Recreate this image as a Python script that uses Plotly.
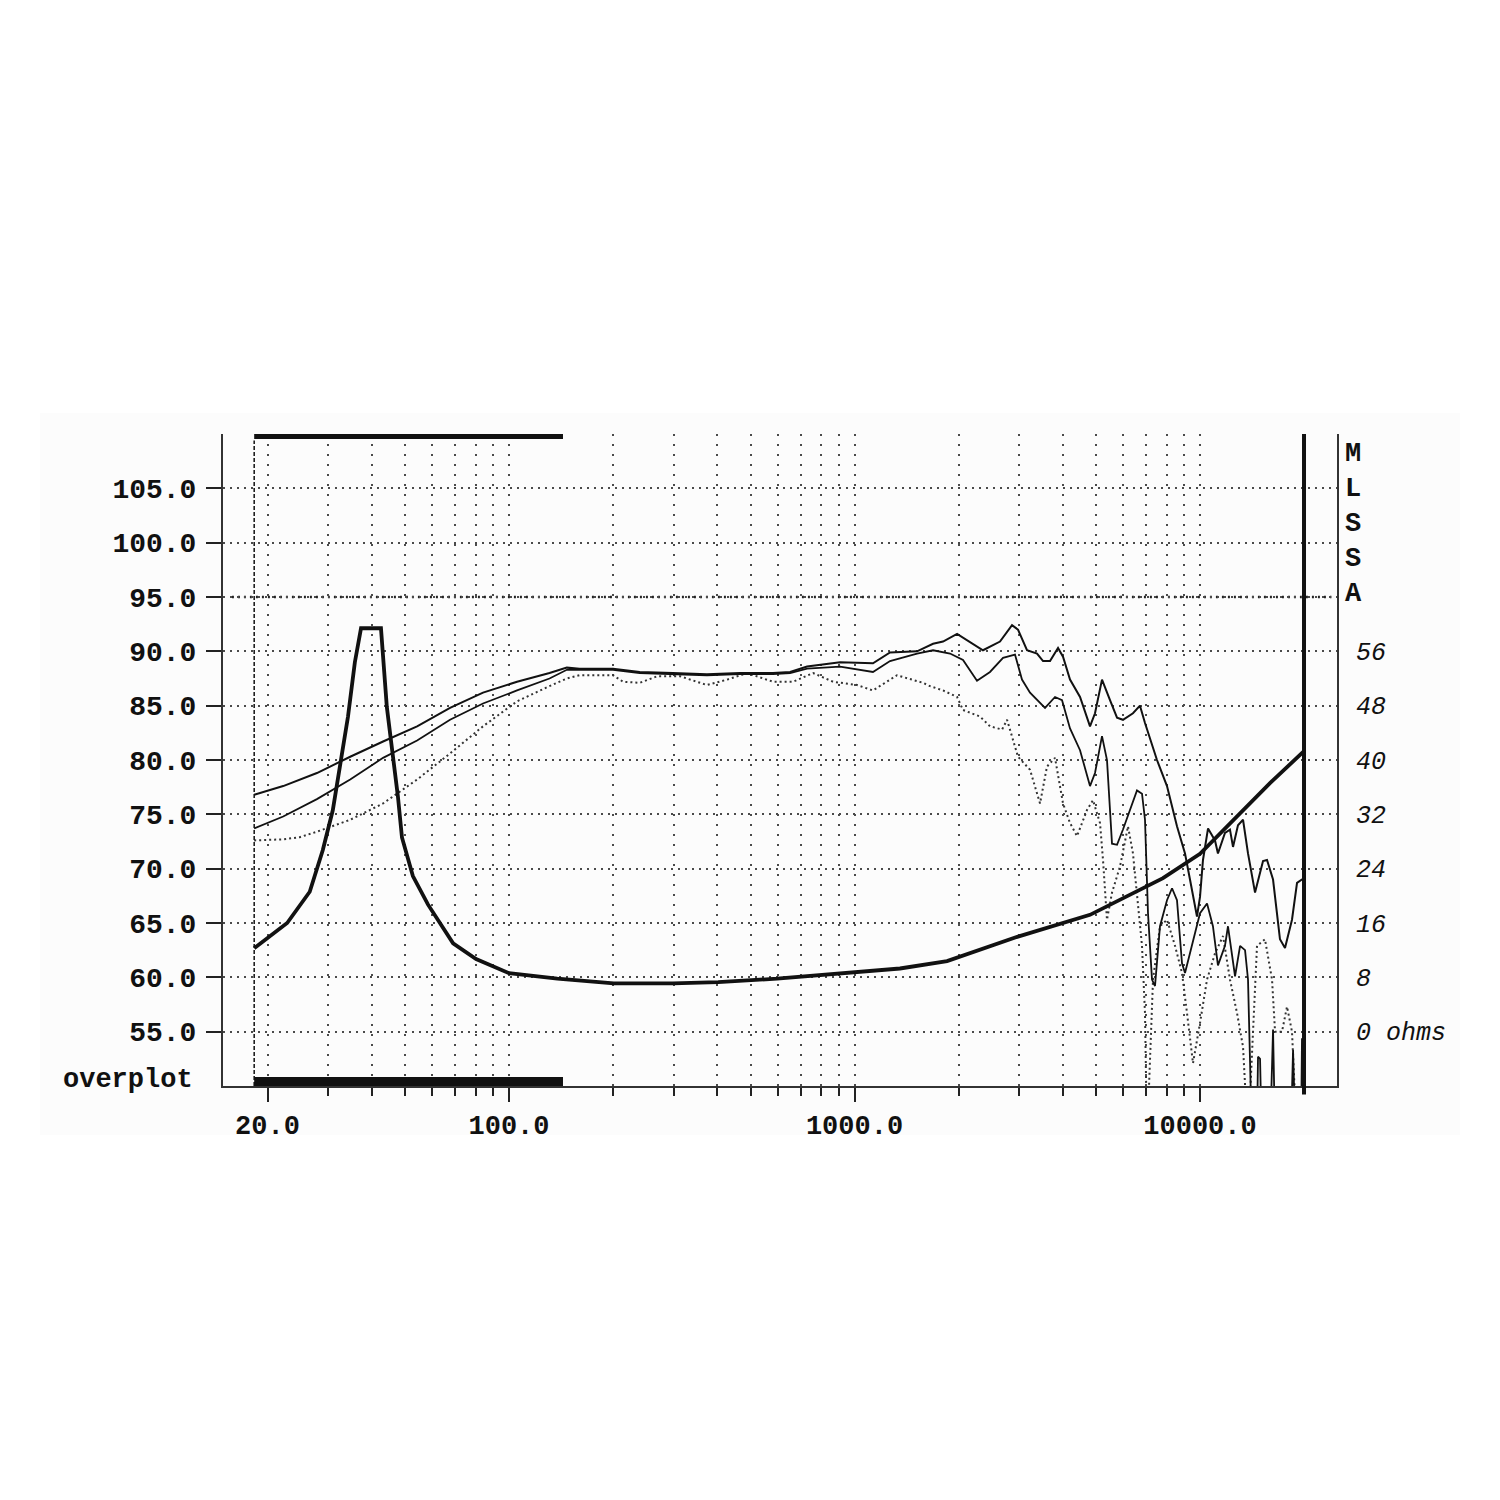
import plotly.graph_objects as go

# ---------------- data ----------------
# SPL curve A (upper solid), Hz / dB
freq_A = [18.3, 22.2, 27.8, 34.7, 43.2, 54.2, 67.5, 84.1, 105.5, 131, 147, 160, 200, 239, 298, 374, 466, 581, 651, 729,
          908, 1131, 1267, 1517, 1688, 1804, 1981, 2117, 2354, 2637, 2857, 2973, 3157, 3375, 3513, 3680, 3882, 4013,
          4205, 4495, 4804, 4967, 5204, 5489, 5752, 5985, 6397, 6703, 6931, 7507, 8025, 8578, 9049, 9354, 9800,
          10000, 10200, 10550, 11050, 11270, 11810, 12210, 12460, 12880, 13320, 13770, 14430, 15220, 15630, 16270,
          17040, 17620, 18460, 19090, 19730, 20000]
spl_A = [76.8, 77.6, 78.8, 80.3, 81.7, 83.1, 84.8, 86.2, 87.2, 88.0, 88.5, 88.4, 88.4, 88.1, 88.0, 87.9, 88.0, 88.0,
         88.1, 88.6, 89.0, 88.9, 89.9, 90.0, 90.7, 90.9, 91.6, 91.0, 90.1, 90.9, 92.4, 92.0, 90.1, 89.8, 89.1, 89.1,
         90.3, 89.5, 87.4, 85.8, 83.1, 84.3, 87.4, 85.5, 83.9, 83.7, 84.3, 85.0, 83.4, 80.0, 77.6, 73.9, 71.4, 69.0,
         65.6, 67.4, 70.8, 73.7, 72.6, 71.4, 73.3, 73.6, 72.0, 74.0, 74.5, 71.4, 67.8, 70.7, 70.8, 69.0, 63.5, 62.7,
         65.3, 68.7, 69.0, 69.0]

# SPL curve B (lower solid)
freq_B = [18.3, 22.2, 27.8, 34.7, 43.2, 54.2, 67.5, 84.1, 105.5, 131, 147, 160, 200, 239, 298, 374, 466, 581, 651, 729,
          908, 1131, 1267, 1517, 1688, 1890, 2061, 2262, 2467, 2691, 2914, 3053, 3221, 3560, 3805, 3987, 4205, 4495,
          4804, 4967, 5204, 5380, 5563, 5752, 5985, 6397, 6571, 6794, 6931, 7071, 7262, 7409, 7659, 8025, 8299,
          8578, 8869, 9049, 9354, 9800, 10000, 10480, 10900, 11270, 11810, 12050, 12380, 12630, 13060, 13500,
          13770, 14140, 14600, 14720, 14920, 15100, 15940, 16270, 16500, 18300, 18590, 18900, 19600, 19730, 20000]
spl_B = [73.7, 74.8, 76.4, 78.2, 80.2, 81.8, 83.7, 85.2, 86.4, 87.5, 88.3, 88.3, 88.3, 88.0, 87.9, 87.8, 87.9, 87.9,
         88.0, 88.4, 88.6, 88.1, 89.1, 89.8, 90.1, 89.8, 89.2, 87.3, 88.1, 89.4, 89.7, 87.4, 86.2, 84.8, 85.8, 85.5,
         82.9, 80.9, 77.6, 78.8, 82.2, 80.0, 72.3, 72.2, 73.6, 76.3, 77.2, 76.9, 74.5, 65.9, 59.8, 59.2, 64.7, 67.1,
         68.2, 67.1, 61.3, 60.4, 62.2, 64.7, 65.9, 66.8, 64.7, 61.1, 62.9, 64.7, 61.9, 60.1, 62.9, 62.5, 59.8, 45,
         45, 52.7, 52.5, 45, 45, 55.2, 45, 45, 53.3, 45, 45, 54.3, 54.3]

# SPL curve C (dotted)
freq_C = [18.3, 22.2, 24.8, 27.8, 34.7, 43.2, 54.2, 67.5, 84.1, 105.5, 131, 147, 160, 200, 214, 239, 268, 313, 374,
          428, 489, 581, 664, 759, 867, 1017, 1131, 1327, 1579, 1654, 1804, 1981, 2061, 2308, 2467, 2673, 2764, 2973,
          3221, 3443, 3607, 3805, 4013, 4205, 4406, 4709, 4901, 5135, 5239, 5380, 5563, 5868, 6188, 6397, 6794,
          6931, 7024, 7311, 7659, 8025, 8466, 8869, 9171, 9543, 10000, 10480, 11050, 11660, 12210, 12800, 13320,
          13770, 14620, 15420, 16160, 16490, 17270, 17860, 18460, 19090, 19470]
spl_C = [72.6, 72.7, 72.9, 73.4, 74.5, 76.0, 78.2, 80.6, 83.1, 85.4, 86.8, 87.5, 87.8, 87.8, 87.2, 87.1, 87.7, 87.7,
         86.9, 87.4, 88.0, 87.2, 87.2, 88.0, 87.2, 86.9, 86.4, 87.8, 87.1, 86.8, 86.4, 85.8, 84.6, 84.0, 83.1, 82.8,
         83.7, 80.3, 79.1, 76.0, 79.4, 80.2, 76.0, 74.2, 73.0, 75.4, 76.3, 74.2, 70.8, 65.3, 67.8, 70.2, 73.9, 71.4,
         62.9, 56.7, 45, 59.8, 64.7, 65.3, 62.9, 60.4, 56.7, 52.1, 55.8, 59.8, 62.2, 63.8, 59.8, 56.7, 53.6, 45,
         62.9, 63.5, 59.8, 55.0, 55.0, 57.3, 55.0, 45, 45]

# Impedance curve, Hz / ohms
freq_Z = [18.3, 22.8, 26.5, 28.9, 30.9, 32.4, 34.2, 35.8, 37.3, 42.6, 44.3, 46.2, 47.7, 49.0, 52.7, 58.3, 68.9, 80.3,
          100, 138, 201, 298, 403, 597, 983, 1354, 1853, 2973, 4804, 7814, 10000, 13060, 15940, 20000]
ohm_Z = [12.3, 16.0, 20.6, 26.7, 32.6, 39.0, 46.4, 54.4, 59.4, 59.4, 47.8, 40.3, 34.6, 28.6, 22.9, 18.7, 13.0, 10.7,
         8.6, 7.8, 7.1, 7.1, 7.3, 7.8, 8.7, 9.3, 10.4, 14.0, 17.2, 22.6, 26.2, 32.2, 36.6, 41.3]

for a, b in [(freq_A, spl_A), (freq_B, spl_B), (freq_C, spl_C), (freq_Z, ohm_Z)]:
    assert len(a) == len(b), (len(a), len(b))

# axes / labels
x_major = [20, 100, 1000, 10000]
x_major_text = ["20.0", "100.0", "1000.0", "10000.0"]
x_minor = [30, 40, 50, 60, 70, 80, 90, 200, 300, 400, 500, 600, 700, 800, 900,
           2000, 3000, 4000, 5000, 6000, 7000, 8000, 9000]
db_ticks = [55, 60, 65, 70, 75, 80, 85, 90, 95, 100, 105]
ohm_ticks = [0, 8, 16, 24, 32, 40, 48, 56]
ohm_text = ["0 ohms", "8", "16", "24", "32", "40", "48", "56"]
sweep_start, sweep_end = 18.3, 20000
overplot_range = [18.3, 143.3]

# ---------------- figure ----------------
MONO = "Liberation Mono"
INK = "#111111"
GRID = "#4a4a4a"

fig = go.Figure()
fig.add_trace(go.Scatter(x=freq_C, y=spl_C, mode="lines", yaxis="y",
                         line=dict(color="#333333", width=2, dash="2px,3px"), hoverinfo="skip"))
fig.add_trace(go.Scatter(x=freq_B, y=spl_B, mode="lines", yaxis="y",
                         line=dict(color=INK, width=1.8), hoverinfo="skip"))
fig.add_trace(go.Scatter(x=freq_A, y=spl_A, mode="lines", yaxis="y",
                         line=dict(color=INK, width=2), hoverinfo="skip"))
fig.add_trace(go.Scatter(x=freq_Z, y=ohm_Z, mode="lines", yaxis="y2",
                         line=dict(color=INK, width=3.8), hoverinfo="skip"))

fig.update_layout(
    width=1500, height=1500, autosize=False,
    margin=dict(l=215, r=171, t=426, b=422, pad=0),
    paper_bgcolor="white", plot_bgcolor="rgba(0,0,0,0)",
    showlegend=False,
    xaxis=dict(
        type="log", range=[1.1722, 4.3965],
        tickmode="array", tickvals=x_major, ticktext=x_major_text,
        ticks="outside", ticklen=14, tickwidth=2, tickcolor="#222",
        showline=True, linewidth=2, linecolor="#333", zeroline=False,
        showgrid=True, gridcolor=GRID, gridwidth=1.5, griddash="2px,8px",
        tickfont=dict(family=MONO, size=27, color=INK, weight="bold"),
        minor=dict(tickmode="array", tickvals=x_minor, ticks="outside", ticklen=8, tickwidth=2,
                   tickcolor="#222", showgrid=True, gridcolor=GRID, gridwidth=1.5, griddash="2px,8px"),
    ),
    yaxis=dict(
        range=[50, 110], tickmode="array", tickvals=db_ticks, tickformat=".1f",
        ticks="outside", ticklen=15, tickwidth=2, tickcolor="#222", ticklabelstandoff=4,
        showline=True, linewidth=2, linecolor="#333", zeroline=False,
        showgrid=True, gridcolor=GRID, gridwidth=1.5, griddash="2px,5px",
        tickfont=dict(family=MONO, size=28, color=INK, weight="bold"),
    ),
    yaxis2=dict(
        overlaying="y", side="right", range=[-8, 88],
        tickmode="array", tickvals=ohm_ticks, ticktext=ohm_text,
        ticks="", ticklabelstandoff=12, showgrid=False, zeroline=False,
        showline=True, linewidth=2, linecolor="#333",
        tickfont=dict(family=MONO, size=25, color=INK, style="italic"),
    ),
)

# faint panel behind the chart
fig.add_shape(type="rect", xref="paper", yref="paper", x0=-0.1643, x1=1.1104, y0=-0.0752, y1=1.0322,
              fillcolor="#fcfcfc", line=dict(width=0), layer="below")
# heavier 95 dB reference line
fig.add_shape(type="line", xref="paper", yref="y", x0=0.008, x1=0.995, y0=95, y1=95,
              line=dict(color="#222", width=2.5, dash="2px,4px"), layer="below")
# sweep start (dashed) and end (solid) markers
fig.add_shape(type="line", xref="x", yref="paper", x0=sweep_start, x1=sweep_start, y0=0, y1=0.99,
              line=dict(color=INK, width=1.5, dash="4px,2px"))
fig.add_shape(type="line", xref="x", yref="paper", x0=sweep_end, x1=sweep_end, y0=-0.013, y1=1.0,
              line=dict(color=INK, width=4))
# overplot range bars
fig.add_shape(type="line", xref="x", yref="paper", x0=overplot_range[0], x1=overplot_range[1], y0=0.996, y1=0.996,
              line=dict(color=INK, width=5))
fig.add_shape(type="line", xref="x", yref="paper", x0=overplot_range[0], x1=overplot_range[1], y0=0.0068, y1=0.0068,
              line=dict(color=INK, width=9))

fig.add_annotation(text="overplot", xref="paper", yref="paper", x=-0.025, y=0.0095,
                   xanchor="right", yanchor="middle", showarrow=False,
                   font=dict(family=MONO, size=27, color=INK, weight="bold"))
fig.add_annotation(text="M<br>L<br>S<br>S<br>A", xref="paper", yref="paper", x=1.0055, y=0.995,
                   xanchor="left", yanchor="top", align="left", showarrow=False,
                   font=dict(family=MONO, size=27, color=INK, weight="bold"))

fig.write_html("out.html")
